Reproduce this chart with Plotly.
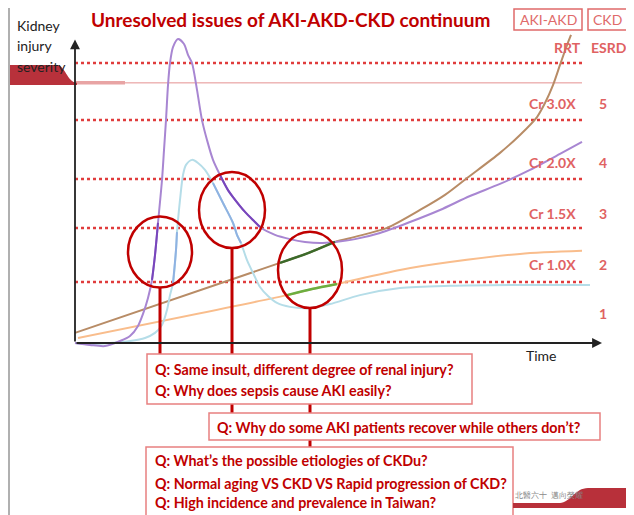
import plotly.graph_objects as go
import numpy as np

# x = time, y = kidney injury severity (arbitrary units, 0 at the axes origin)
purple_t = [0, 3, 6, 9, 11, 12.6, 13.6, 14.6, 15.4, 16.0, 16.6, 17.4, 17.8, 18.2, 18.6, 19.0,
            19.6, 20.6, 21.8, 22.6, 23.4, 24.4, 25.4, 26.4, 27.6, 29.0, 30.6, 31.6, 34.0, 36.0,
            37.0, 40.0, 43.0, 46.0, 49.0, 52.0, 56.0, 61.0, 67.0, 73.0, 79.0, 85.0, 91.0, 97.0, 101.4]
purple_s = [0, -0.7, -1.1, 0.7, 2.5, 6.1, 10.4, 16.1, 22.5, 31.4, 42.9, 58.2, 68.9, 79.6, 92.1, 100,
            105.7, 108.6, 106.8, 102.9, 100, 90.4, 79.6, 72.5, 65.4, 60.0, 54.6, 52.1, 46.8, 43.2,
            41.4, 38.6, 37.1, 36.1, 35.7, 36.1, 37.1, 39.3, 43.2, 47.5, 52.5, 56.8, 61.8, 67.5, 71.8]

blue_t = [0, 3, 7, 11, 14, 16, 17.4, 18.4, 19.0, 19.6, 20.2, 20.4, 20.6, 21.0, 21.6, 22.2, 23.4,
          24.6, 26.0, 27.6, 29.6, 31.6, 32.4, 33.2, 34.4, 35.8, 37.0, 38.6, 40.4, 43, 47, 51, 57,
          65, 75, 89, 103]
blue_s = [0, -0.4, 0, 0.7, 1.8, 3.6, 6.4, 11.8, 17.1, 21.4, 33.2, 39.6, 43.9, 51.1, 60.0, 63.6, 65.4,
          64.3, 61.8, 57.1, 50.0, 42.9, 38.6, 35.7, 29.6, 24.3, 20.0, 16.8, 14.3, 12.9, 12.5, 13.9, 17.1,
          19.6, 20.4, 20.7, 20.7]

brown_t = [0, 41, 46.6, 52, 56, 62.4, 69, 74, 78.4, 85, 89, 92.4, 94, 95.6, 97, 98.2, 99.2]
brown_s = [3.6, 28.6, 32.1, 36.1, 37.9, 41.1, 47.5, 52.9, 58.9, 67.9, 74.3, 80.7, 85.7, 92.1, 99.3, 105.4, 110]
brown_green = (41, 52)

orange_t = [0.6, 42.4, 47.4, 52.4, 65, 75, 89, 101.4]
orange_s = [1.8, 17.1, 19.3, 21.1, 26.1, 28.9, 31.8, 32.9]
orange_green = (42.4, 52.4)

# severity thresholds (dotted lines) and their labels
levels = [21.8, 41.1, 58.6, 79.6, 100]
cr_labels = ["Cr 1.0X", "Cr 1.5X", "Cr 2.0X", "Cr 3.0X"]
stages = ["1", "2", "3", "4", "5"]
dialysis_level = 92.9

# question circles: centre t, centre s, half width, half height
circles = [(17, 32.5, 6.4, 12.7), (31.4, 47.5, 6.6, 13.6), (47, 26.1, 6.4, 13.6)]

questions = [
    ["Q: Same insult, different degree of renal injury?",
     "Q: Why does sepsis cause AKI easily?"],
    ["Q: Why do some AKI patients recover while others don\u2019t?"],
    ["Q: What\u2019s the possible etiologies of CKDu?",
     "Q: Normal aging VS CKD VS Rapid progression of CKD?",
     "Q: High incidence and prevalence in Taiwan?"],
]

RED = "#c00000"
SOFT = "#e06262"
FONT = "Lato"

fig = go.Figure()


def line(t, s, color, width=2):
    fig.add_trace(go.Scatter(x=t, y=s, mode="lines", hoverinfo="skip",
                             line=dict(color=color, width=width, shape="spline", smoothing=0.8)))


def inside(t, s, c):
    t, s = np.asarray(t), np.asarray(s)
    return ((t - c[0]) / c[2]) ** 2 + ((s - c[1]) / c[3]) ** 2 <= 1


line(brown_t, brown_s, "#b88c66")
line(orange_t, orange_s, "#f9bd8c")
line(blue_t, blue_s, "#b5dde8")
line(purple_t, purple_s, "#a886d2")

# darker parts of the curves seen through the circles
for c in circles[:2]:
    m = inside(blue_t, blue_s, c)
    line(np.array(blue_t)[m], np.array(blue_s)[m], "#8fb2e2")
    m = inside(purple_t, purple_s, c)
    line(np.array(purple_t)[m], np.array(purple_s)[m], "#7846bc")

bt, bs = np.array(brown_t), np.array(brown_s)
m = (bt >= brown_green[0]) & (bt <= brown_green[1])
line(bt[m], bs[m], "#3b6a2a", 2.5)
ot, os_ = np.array(orange_t), np.array(orange_s)
m = (ot >= orange_green[0]) & (ot <= orange_green[1])
line(ot[m], os_[m], "#6cae40", 2.5)

shapes = []
for lv in levels:
    shapes.append(dict(type="line", x0=0, x1=101.4, y0=lv, y1=lv, layer="below",
                       line=dict(color="#e03c3c", width=2.5, dash="3px,3px")))
# dialysis line and severity band on the left
shapes.append(dict(type="line", x0=-14.2, x1=101.4, y0=dialysis_level, y1=dialysis_level,
                   layer="below", line=dict(color="#e49090", width=1)))
shapes.append(dict(type="line", x0=0, x1=10, y0=dialysis_level, y1=dialysis_level,
                   layer="below", line=dict(color="#e8a4a4", width=3.5)))
shapes.append(dict(type="path", layer="below", fillcolor="#b8313b", line=dict(width=0),
                   path="M -14.4 99.3 L -3.6 99.3 C -2 99.3 -1.6 93.2 0.4 92.9 "
                        "L 0.4 92.1 L -14.4 92.1 Z"))
shapes.append(dict(type="line", x0=-13.2, x1=-13.2, y0=-62, y1=123,
                   line=dict(color="#b0b0b0", width=2)))

# stems from circles to their question boxes
box_tops = [-3.9, -25, -37.1]
for c, top in zip(circles, box_tops):
    shapes.append(dict(type="line", x0=c[0], x1=c[0], y0=c[1] - c[3], y1=top,
                       line=dict(color=RED, width=3)))
for c in circles:
    shapes.append(dict(type="circle", x0=c[0] - c[2], x1=c[0] + c[2],
                       y0=c[1] - c[3], y1=c[1] + c[3], line=dict(color=RED, width=2.5)))

boxes = [(14.4, 79.4, -3.9, -21.8), (26.8, 105, -25, -34.6), (14.2, 87.6, -37.1, -64)]
for x0, x1, y0, y1 in boxes:
    shapes.append(dict(type="rect", x0=x0, x1=x1, y0=y0, y1=y1, fillcolor="white",
                       line=dict(color="#e88080", width=1.5)))

# legend boxes at the top right
shapes.append(dict(type="rect", x0=87.8, x1=101.4, y0=111.8, y1=119.3,
                   line=dict(color="#e06a6a", width=1.5)))
shapes.append(dict(type="rect", x0=102.6, x1=110.4, y0=111.8, y1=119.3,
                   line=dict(color="#e06a6a", width=1.5)))

# footer band
shapes.append(dict(type="path", fillcolor="#b8303a", line=dict(width=0),
                   path="M 87.6 -57.1 L 97 -57.1 C 99 -57.1 100 -51.8 102.6 -51.8 "
                        "L 112 -51.8 L 112 -58.9 L 87.6 -58.9 Z"))

ann = []


def text(x, y, s, size=14, color="#222", anchor="center", bold=False):
    ann.append(dict(x=x, y=y, text=f"<b>{s}</b>" if bold else s, showarrow=False,
                    xanchor=anchor, yanchor="middle",
                    font=dict(family=FONT, size=size, color=color)))


# axes with arrowheads
ann.append(dict(x=105.4, y=0, ax=0, ay=0, axref="x", ayref="y", text="", showarrow=True,
                arrowhead=2, arrowsize=1.1, arrowwidth=1.8, arrowcolor="#222"))
ann.append(dict(x=0, y=108.4, ax=0, ay=0, axref="x", ayref="y", text="", showarrow=True,
                arrowhead=2, arrowsize=1.1, arrowwidth=1.8, arrowcolor="#222"))

text(43, 115.4, "Unresolved issues of AKI-AKD-CKD continuum", 19, RED, bold=True)
for y, w in zip([113.4, 106.1, 98.6], ["Kidney", "injury", "severity"]):
    text(-12, y, w, 14, "#222", "left")
text(93.2, -4.3, "Time", 14)
text(94.6, 115.6, "AKI-AKD", 14, "#e06a6a")
text(106.5, 115.6, "CKD", 14, "#e06a6a")
text(98.4, 105.7, "RRT", 14, SOFT, bold=True)
text(106.7, 105.7, "ESRD", 14, SOFT, bold=True)

label_y = [27.9, 46.4, 64.6, 85.7]
for y, lab in zip(label_y, cr_labels):
    text(100.6, y, lab, 14, SOFT, "right", bold=True)
for y, st in zip([10.7] + label_y, stages):
    text(105.6, y, st, 14, SOFT, bold=True)

q_pos = [(15.6, [-9.3, -16.8]), (28, [-30]), (15.6, [-42.1, -50, -57.1])]
for (x, ys), qs in zip(q_pos, questions):
    for y, q in zip(ys, qs):
        text(x, y, q, 14.3, RED, "left", bold=True)

text(87.6, -54.4, "北醫六十  邁向榮耀", 8, "#8a8a8a", "left")

# the page places the figure 8px in from the top-left corner
fig.update_layout(
    width=626, height=507, margin=dict(l=0, r=0, t=0, b=0),
    paper_bgcolor="white", plot_bgcolor="white", showlegend=False,
    xaxis=dict(range=[-13.4, 111.8], visible=False, fixedrange=True),
    yaxis=dict(range=[-61.43, 119.64], visible=False, fixedrange=True),
    shapes=shapes, annotations=ann,
)

fig.write_html("out.html")
